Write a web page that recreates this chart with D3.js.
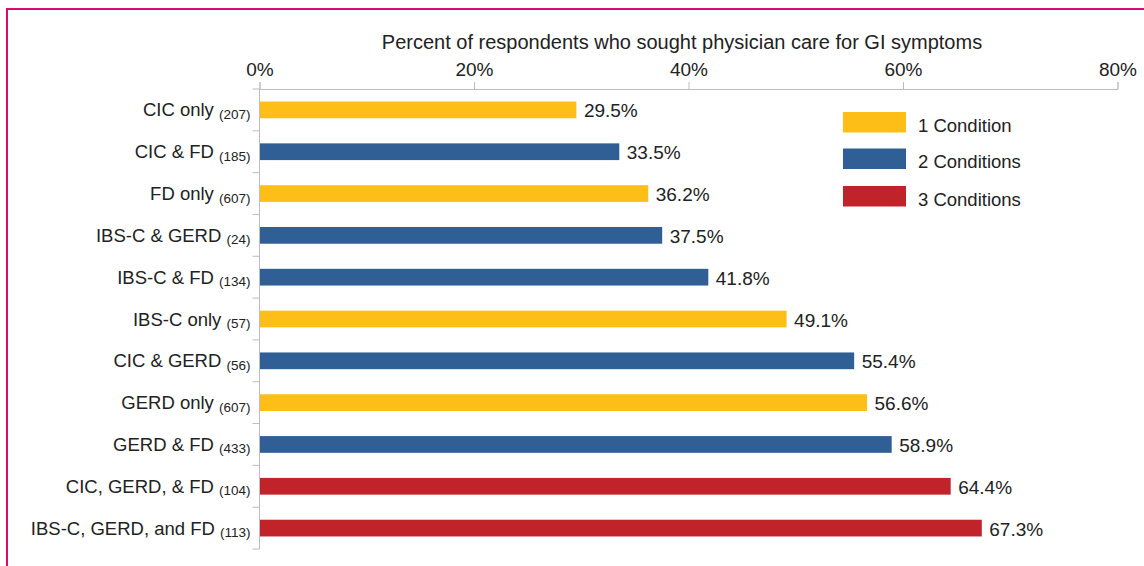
<!DOCTYPE html>
<html>
<head>
<meta charset="utf-8">
<script src="https://cdn.jsdelivr.net/npm/d3@7"></script>
<style>
  html, body { margin: 0; padding: 0; background: #fff; }
  svg { display: block; font-family: "Liberation Sans", Arial, Helvetica, sans-serif; }
</style>
</head>
<body>
<svg id="chart" width="1144" height="566"></svg>
<script>
// Groups, respondent counts and share who sought physician care
const categories = ["CIC only", "CIC & FD", "FD only", "IBS-C & GERD", "IBS-C & FD", "IBS-C only",
  "CIC & GERD", "GERD only", "GERD & FD", "CIC, GERD, & FD", "IBS-C, GERD, and FD"];
const counts = [207, 185, 607, 24, 134, 57, 56, 607, 433, 104, 113];
const values = [29.5, 33.5, 36.2, 37.5, 41.8, 49.1, 55.4, 56.6, 58.9, 64.4, 67.3];
const conditionCount = [1, 2, 1, 2, 2, 1, 2, 1, 2, 3, 3];
const legendLabels = ["1 Condition", "2 Conditions", "3 Conditions"];
const xTicks = [0, 20, 40, 60, 80];
const axisTitle = "Percent of respondents who sought physician care for GI symptoms";

const colors = { 1: "#FDBF17", 2: "#305F96", 3: "#C1232B" };
const textColor = "#222";

const svg = d3.select("#chart");

// Frame lines (top and left)
svg.append("line").attr("x1", 7).attr("x2", 1144).attr("y1", 9).attr("y2", 9)
  .attr("stroke", "#DD0A6E").attr("stroke-width", 2);
svg.append("line").attr("x1", 7).attr("x2", 7).attr("y1", 8).attr("y2", 566)
  .attr("stroke", "#DD0A6E").attr("stroke-width", 2);

const plotLeft = 259.5, plotRight = 1117.5, plotTop = 89, plotBottom = 549;

const x = d3.scaleLinear().domain([0, 80]).range([plotLeft, plotRight]);
const y = d3.scaleBand().domain(categories).range([plotTop, plotBottom]).paddingInner(0.6).paddingOuter(0.3);
const yOuter = d3.scaleBand().domain(categories).range([plotTop, plotBottom]);

// X axis on top, ticks pointing up
const xAxis = d3.axisTop(x).tickValues(xTicks).tickFormat(d => d + "%").tickSizeInner(7).tickSizeOuter(7).tickPadding(6);
const gx = svg.append("g").attr("transform", `translate(0,${plotTop})`).call(xAxis);
gx.select(".domain").attr("stroke", "#BDBDBD");
gx.selectAll(".tick line").attr("stroke", "#BDBDBD");
gx.selectAll(".tick text").attr("font-size", 19).attr("fill", textColor).attr("font-family", "inherit");

svg.append("text").attr("x", 682).attr("y", 49).attr("text-anchor", "middle")
  .attr("font-size", 20).attr("fill", textColor).text(axisTitle);

// Y axis: line with ticks between rows
svg.append("line").attr("x1", plotLeft).attr("x2", plotLeft).attr("y1", plotTop).attr("y2", plotBottom)
  .attr("stroke", "#BDBDBD");
const boundaries = categories.map(c => yOuter(c)).concat([plotBottom]);
svg.selectAll(".ytick").data(boundaries).join("line")
  .attr("class", "ytick")
  .attr("x1", plotLeft - 7).attr("x2", plotLeft)
  .attr("y1", d => d).attr("y2", d => d)
  .attr("stroke", "#BDBDBD");

// Bars
svg.selectAll(".bar").data(categories).join("rect")
  .attr("class", "bar")
  .attr("x", x(0) + 0.5)
  .attr("y", d => y(d))
  .attr("width", (d, i) => x(values[i]) - x(0))
  .attr("height", y.bandwidth())
  .attr("fill", (d, i) => colors[conditionCount[i]]);

// Value labels
svg.selectAll(".val").data(categories).join("text")
  .attr("class", "val")
  .attr("x", (d, i) => x(values[i]) + 8)
  .attr("y", d => y(d) + y.bandwidth() / 2 + 7.5)
  .attr("font-size", 19).attr("fill", textColor)
  .text((d, i) => values[i].toFixed(1) + "%");

// Category labels with smaller counts
const lab = svg.selectAll(".cat").data(categories).join("text")
  .attr("class", "cat")
  .attr("x", 250.5)
  .attr("y", d => y(d) + y.bandwidth() / 2 + 6.5)
  .attr("text-anchor", "end")
  .attr("font-size", 18.5).attr("fill", textColor);
lab.append("tspan").text(d => d + " ");
lab.append("tspan").attr("font-size", 13.5).attr("dy", 2.5).text((d, i) => "(" + counts[i] + ")");

// Legend
const legendY = [112, 148.5, 186];
const lg = svg.selectAll(".lg").data(legendLabels).join("g")
  .attr("class", "lg")
  .attr("transform", (d, i) => `translate(843,${legendY[i]})`);
lg.append("rect").attr("width", 63).attr("height", 20.5)
  .attr("fill", (d, i) => colors[i + 1]);
lg.append("text").attr("x", 75).attr("y", 19.5).attr("font-size", 18.5).attr("fill", textColor).text(d => d);
</script>
</body>
</html>
